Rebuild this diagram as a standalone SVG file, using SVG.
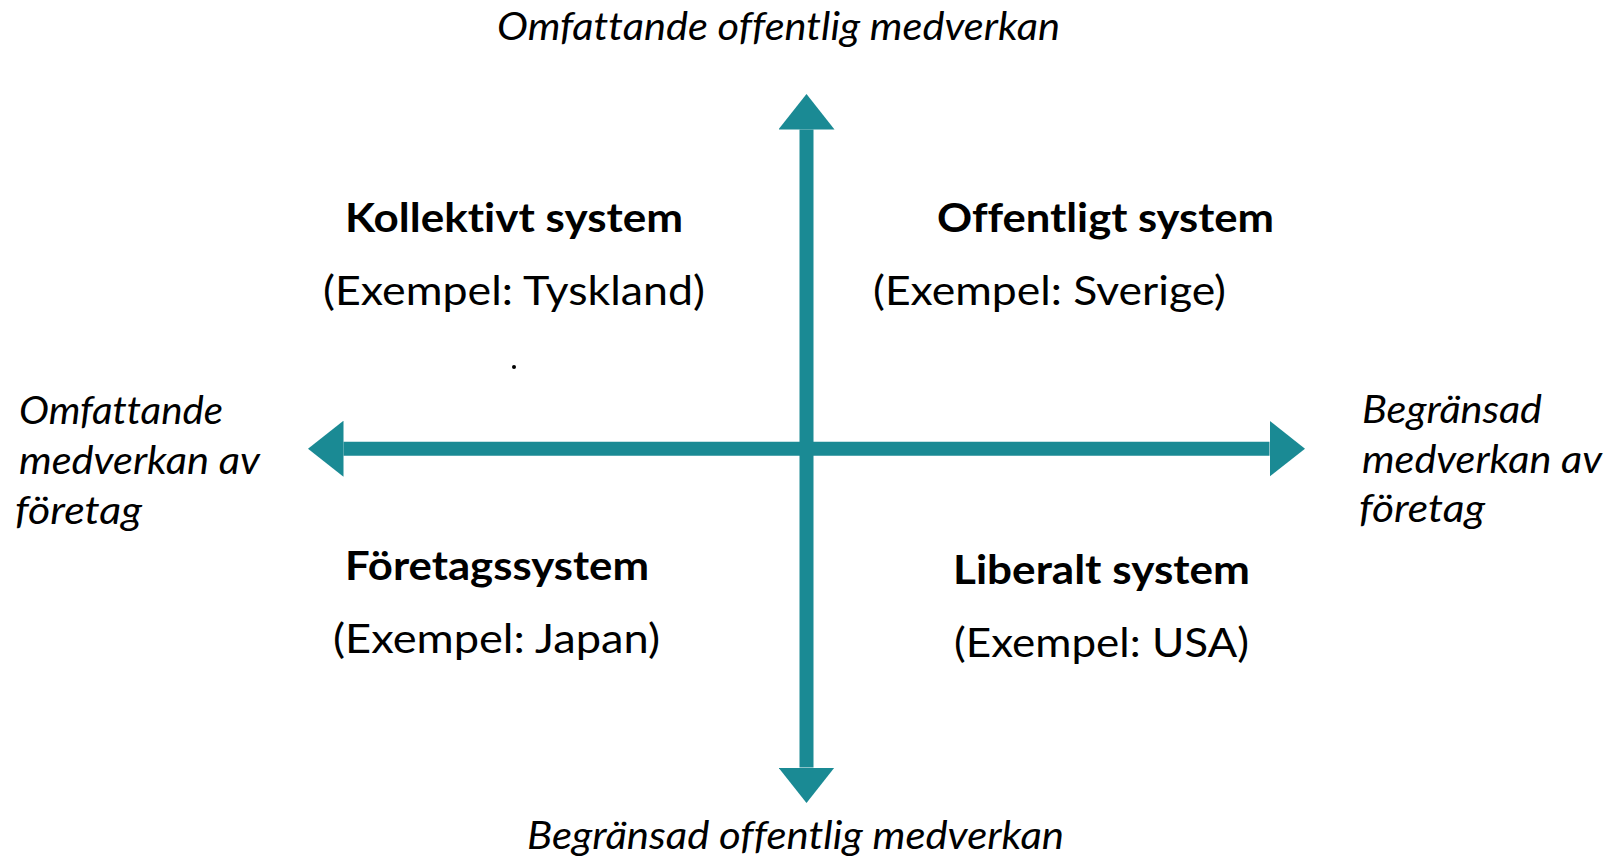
<svg xmlns="http://www.w3.org/2000/svg" width="1622" height="857" viewBox="0 0 1622 857">
<style>
text{font-variant-ligatures:none;font-feature-settings:"liga" 0,"clig" 0}
.title{font-family:Lato,"Open Sans","Liberation Sans",sans-serif;font-weight:bold;font-size:40px;fill:#000}
.ex{font-family:Lato,"Open Sans","Liberation Sans",sans-serif;font-size:41px;fill:#000}
.ax{font-family:Lato,"Open Sans","Liberation Sans",sans-serif;font-style:italic;font-size:39px;fill:#000}
.axis{stroke:#1A8A94;stroke-width:14;fill:none;marker-start:url(#head);marker-end:url(#head)}
</style>
<defs>
<marker id="head" markerUnits="userSpaceOnUse" markerWidth="36" markerHeight="56" viewBox="0 0 36 56" refX="0" refY="28" orient="auto-start-reverse">
<path d="M0,0 L35.5,28 L0,56 Z" fill="#1A8A94"/>
</marker>
</defs>
<rect width="1622" height="857" fill="#fff"/>
<g id="connectors">
<line class="axis" x1="343.5" y1="448.7" x2="1269.5" y2="448.7"/>
<line class="axis" x1="806.5" y1="129.5" x2="806.5" y2="767.5"/>
</g>
<g id="axis-top"><text class="ax" x="497" y="40" textLength="563" lengthAdjust="spacingAndGlyphs">Omfattande offentlig medverkan</text></g>
<g id="axis-bottom"><text class="ax" x="527" y="849" textLength="537" lengthAdjust="spacingAndGlyphs">Begränsad offentlig medverkan</text></g>
<g id="axis-left">
<text class="ax" x="19" y="424" textLength="204" lengthAdjust="spacingAndGlyphs">Omfattande</text>
<text class="ax" x="19" y="474" textLength="241" lengthAdjust="spacingAndGlyphs">medverkan av</text>
<text class="ax" x="15" y="524" textLength="127" lengthAdjust="spacingAndGlyphs">företag</text>
</g>
<g id="axis-right">
<text class="ax" x="1362" y="423" textLength="180" lengthAdjust="spacingAndGlyphs">Begränsad</text>
<text class="ax" x="1362" y="473" textLength="240" lengthAdjust="spacingAndGlyphs">medverkan av</text>
<text class="ax" x="1359" y="522" textLength="126" lengthAdjust="spacingAndGlyphs">företag</text>
</g>
<g id="kollektivt">
<text class="title" x="345" y="232" textLength="338" lengthAdjust="spacingAndGlyphs">Kollektivt system</text>
<text class="ex" x="323" y="305" textLength="382" lengthAdjust="spacingAndGlyphs">(Exempel: Tyskland)</text>
<circle cx="514" cy="367" r="2" fill="#000"/>
</g>
<g id="offentligt">
<text class="title" x="937" y="232" textLength="337" lengthAdjust="spacingAndGlyphs">Offentligt system</text>
<text class="ex" x="873" y="305" textLength="353" lengthAdjust="spacingAndGlyphs">(Exempel: Sverige)</text>
</g>
<g id="foretags">
<text class="title" x="345" y="580" textLength="304" lengthAdjust="spacingAndGlyphs">Företagssystem</text>
<text class="ex" x="333" y="653" textLength="327" lengthAdjust="spacingAndGlyphs">(Exempel: Japan)</text>
</g>
<g id="liberalt">
<text class="title" x="953" y="584" textLength="297" lengthAdjust="spacingAndGlyphs">Liberalt system</text>
<text class="ex" x="954" y="657" textLength="295" lengthAdjust="spacingAndGlyphs">(Exempel: USA)</text>
</g>
</svg>
